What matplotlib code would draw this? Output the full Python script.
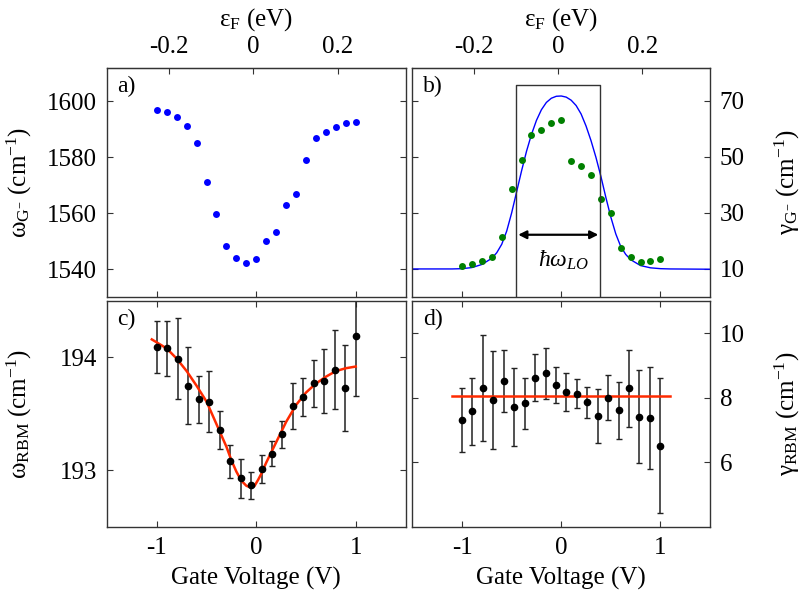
import matplotlib as mpl
mpl.use('Agg')
import matplotlib.pyplot as plt

plt.rcParams['font.family'] = ['Liberation Serif', 'DejaVu Serif']
plt.rcParams['mathtext.fontset'] = 'custom'
plt.rcParams['mathtext.rm'] = 'Liberation Serif'
plt.rcParams['mathtext.it'] = 'Liberation Serif:italic'
plt.rcParams['mathtext.default'] = 'rm'
plt.rcParams['axes.unicode_minus'] = False
plt.rcParams['font.size'] = 18

# gate voltage grids
volt21 = [-1.0, -0.9, -0.8, -0.7, -0.6, -0.5, -0.4, -0.3, -0.2, -0.1, 0.0,
          0.1, 0.2, 0.3, 0.4, 0.5, 0.6, 0.7, 0.8, 0.9, 1.0]
volt20 = [-1.0, -0.895, -0.789, -0.684, -0.579, -0.474, -0.368, -0.263, -0.158, -0.053,
          0.053, 0.158, 0.263, 0.368, 0.474, 0.579, 0.684, 0.789, 0.895, 1.0]

# a) G- frequency
omega_g = [1596.8, 1596.3, 1594.5, 1591.1, 1585.3, 1571.2, 1559.8, 1548.4, 1544.1, 1542.3, 1543.7,
           1550.2, 1553.3, 1562.9, 1566.8, 1579.2, 1587.1, 1588.9, 1590.7, 1592.3, 1592.6]

# b) G- linewidth + fit
gamma_g = [11.1, 11.8, 13.0, 14.4, 21.4, 38.5, 48.9, 57.7, 59.7, 62.0, 63.2,
           48.6, 46.9, 43.4, 35.1, 30.0, 17.5, 14.4, 12.6, 12.7, 13.7]
fit_b_v = [-1.5, -1.1, -1.0, -0.9, -0.8, -0.7, -0.65, -0.6, -0.55, -0.5, -0.45, -0.4, -0.35,
           -0.3, -0.25, -0.2, -0.15, -0.1, -0.05, 0.0, 0.05, 0.1, 0.15, 0.2, 0.25, 0.3, 0.35,
           0.4, 0.45, 0.5, 0.55, 0.6, 0.65, 0.7, 0.8, 0.9, 1.0, 1.1, 1.5]
fit_b_g = [10.0, 10.0, 10.1, 10.5, 11.6, 13.8, 15.8, 18.8, 23.5, 30.0, 37.5, 45.0, 52.0,
           58.0, 63.0, 66.8, 69.4, 70.9, 71.6, 71.7, 71.3, 70.2, 68.3, 65.3, 61.0, 55.8, 49.8,
           43.0, 35.5, 28.5, 22.5, 18.0, 15.2, 13.3, 11.2, 10.4, 10.1, 10.0, 9.9]
hw_lo = 0.2        # eV
box_top = 75.6

# c) RBM frequency + fit
omega_rbm = [194.09, 194.08, 193.99, 193.75, 193.63, 193.61, 193.36, 193.08, 192.93, 192.87,
             193.01, 193.15, 193.32, 193.57, 193.65, 193.77, 193.79, 193.89, 193.73, 194.19]
omega_rbm_err = [0.23, 0.24, 0.36, 0.34, 0.21, 0.27, 0.17, 0.15, 0.175, 0.12,
                 0.125, 0.11, 0.12, 0.205, 0.17, 0.21, 0.285, 0.35, 0.38, 0.53]
fit_c_v = [-1.05, -0.9, -0.8, -0.7, -0.6, -0.5, -0.4, -0.3, -0.25, -0.2, -0.15, -0.1, -0.06,
           -0.02, 0.02, 0.05, 0.1, 0.15, 0.2, 0.3, 0.4, 0.5, 0.6, 0.7, 0.8, 0.9, 1.0]
fit_c_w = [194.16, 194.08, 193.99, 193.88, 193.75, 193.61, 193.41, 193.21, 193.09, 192.99,
           192.91, 192.865, 192.85, 192.86, 192.92, 192.97, 193.07, 193.16, 193.25, 193.43,
           193.58, 193.69, 193.77, 193.83, 193.88, 193.905, 193.92]

# d) RBM linewidth + fit
gamma_rbm = [7.31, 7.58, 8.31, 7.93, 8.51, 7.73, 7.84, 8.63, 8.76, 8.41,
             8.17, 8.13, 7.86, 7.43, 8.01, 7.61, 8.29, 7.42, 7.37, 6.52]
gamma_rbm_err = [1.0, 1.04, 1.64, 1.52, 0.96, 1.21, 0.79, 0.72, 0.79, 0.56,
                 0.59, 0.44, 0.49, 0.83, 0.70, 0.87, 1.19, 1.43, 1.58, 2.10]
fit_d_v = [-1.1, 1.1]
fit_d_g = [8.07, 8.07]

# gate voltage -> Fermi energy
V0 = -0.03
K = 0.236


def v2e(v):
    return (v - V0) * K


def e2v(e):
    return e / K + V0


spine_col = '#333333'
red = '#ff2a00'

fig = plt.figure(figsize=(8, 5.91), dpi=100)
ax1 = fig.add_axes([0.1338, 0.4975, 0.3731, 0.3875])
ax2 = fig.add_axes([0.5156, 0.4975, 0.3719, 0.3875])
ax3 = fig.add_axes([0.1338, 0.1083, 0.3731, 0.3824])
ax4 = fig.add_axes([0.5156, 0.1083, 0.3719, 0.3824])

for ax in (ax1, ax2, ax3, ax4):
    ax.set_xlim(-1.5, 1.5)
    ax.set_xticks([-1, 0, 1])
    ax.set_xticklabels(['-1', '0', '1'])
    ax.tick_params(direction='in', length=4, width=0.8, color=spine_col,
                   left=True, right=True, pad=7)
    for s in ax.spines.values():
        s.set_color(spine_col)
        s.set_linewidth(1.0)

# a)
ax1.plot(volt21, omega_g, 'o', color='#0000ff', ms=5, mec='none')
ax1.set_ylim(1530, 1612)
ax1.set_yticks([1540, 1560, 1580, 1600])
ax1.tick_params(labelbottom=False)
ax1.set_ylabel('ω$_{G^{-}}$ (cm$^{-1}$)')
ax1.yaxis.set_label_coords(-0.245, 0.5)
ax1.text(0.035, 0.92, 'a)', transform=ax1.transAxes, fontsize=17, va='center')

# b)
ax2.plot(fit_b_v, fit_b_g, color='#0000ff', lw=1.0)
ax2.plot(volt21, gamma_g, 'o', color='#008000', ms=5, mec='none')
bx0, bx1 = e2v(-hw_lo / 2), e2v(hw_lo / 2)
ax2.plot([bx0, bx0, bx1, bx1], [0, box_top, box_top, 0], color=spine_col, lw=1.0)
ax2.annotate('', xy=(bx0 + 0.02, 22.2), xytext=(bx1 - 0.02, 22.2),
             arrowprops=dict(arrowstyle='<|-|>', color='black', lw=1.6,
                             mutation_scale=12, shrinkA=0, shrinkB=0))
ax2.text(0.02, 13.2, 'ħω$_{\\mathit{LO}}$', fontsize=17, style='italic',
         ha='center', va='center')
ax2.set_ylim(0, 81.7)
ax2.set_yticks([10, 30, 50, 70])
ax2.tick_params(labelbottom=False, labelleft=False, labelright=True)
ax2.yaxis.set_label_position('right')
ax2.set_ylabel('γ$_{G^{-}}$ (cm$^{-1}$)')
ax2.yaxis.set_label_coords(1.21, 0.5)
ax2.text(0.035, 0.92, 'b)', transform=ax2.transAxes, fontsize=17, va='center')

for ax in (ax1, ax2):
    sec = ax.secondary_xaxis('top', functions=(v2e, e2v))
    sec.set_xticks([-0.2, 0, 0.2])
    sec.set_xticklabels(['-0.2', '0', '0.2'])
    sec.tick_params(direction='in', length=4, width=0.8, color=spine_col, pad=7)
    sec.spines['top'].set_color(spine_col)
    sec.set_xlabel('ε$_{F}$ (eV)', labelpad=8)

# c)
ax3.errorbar(volt20, omega_rbm, yerr=omega_rbm_err, fmt='o', color='black', ms=4.5,
             ecolor='#222222', elinewidth=1.1, capsize=2, capthick=1.0)
ax3.plot(fit_c_v, fit_c_w, color=red, lw=1.8)
ax3.set_ylim(192.5, 194.5)
ax3.set_yticks([193, 194])
ax3.tick_params(top=True)
ax3.set_ylabel('ω$_{RBM}$ (cm$^{-1}$)')
ax3.yaxis.set_label_coords(-0.245, 0.5)
ax3.set_xlabel('Gate Voltage (V)', labelpad=6)
ax3.text(0.035, 0.92, 'c)', transform=ax3.transAxes, fontsize=17, va='center')

# d)
ax4.errorbar(volt20, gamma_rbm, yerr=gamma_rbm_err, fmt='o', color='black', ms=4.5,
             ecolor='#222222', elinewidth=1.1, capsize=2, capthick=1.0)
ax4.plot(fit_d_v, fit_d_g, color=red, lw=1.8)
ax4.set_ylim(4.0, 11.0)
ax4.set_yticks([6, 8, 10])
ax4.tick_params(top=True, labelleft=False, labelright=True)
ax4.yaxis.set_label_position('right')
ax4.set_ylabel('γ$_{RBM}$ (cm$^{-1}$)')
ax4.yaxis.set_label_coords(1.21, 0.5)
ax4.set_xlabel('Gate Voltage (V)', labelpad=6)
ax4.text(0.035, 0.92, 'd)', transform=ax4.transAxes, fontsize=17, va='center')

fig.savefig('out.png', dpi=100)
